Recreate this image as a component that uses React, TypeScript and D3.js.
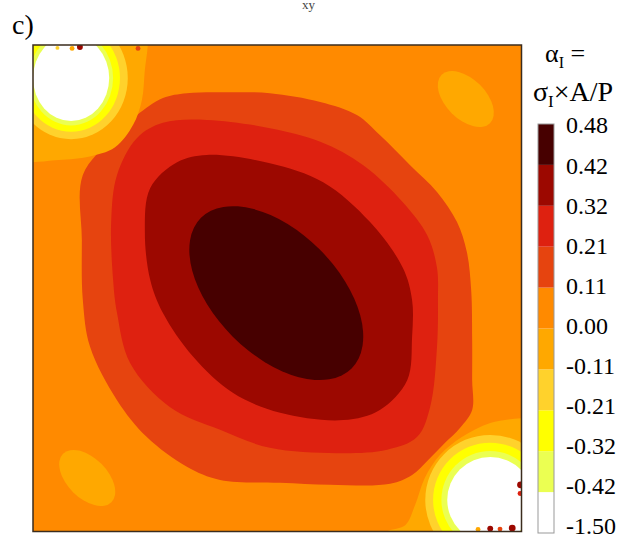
import React from 'react';
import * as d3 from 'd3';

// contour levels of alpha_I and their fill colours (band i = levels[i]..levels[i+1])
const levels = [-1.5, -0.42, -0.32, -0.21, -0.11, 0.0, 0.11, 0.21, 0.32, 0.42, 0.48];
const bandColors = ['#ffffff', '#ebff52', '#ffff00', '#ffd22c', '#ffa800', '#ff8a00', '#e6440f', '#de2110', '#9c0800', '#470000'];

// outlines in section coordinates (% of width, % of height, y up)
const above011 = [[10.2, 73.3], [16.4, 80.9], [21.3, 85.6], [26.6, 89.1], [31.5, 90.1], [40.3, 90.3], [48.5, 90.1], [58.8, 88.3], [66.3, 85.6], [71.0, 81.5], [77.2, 75.3], [82.7, 69.8], [86.8, 63.6], [88.8, 57.5], [89.7, 49.6], [89.9, 39.4], [89.9, 31.1], [89.9, 25.0], [87.4, 21.3], [84.3, 18.2], [80.9, 14.7], [77.6, 11.6], [73.1, 9.8], [60.8, 9.6], [50.6, 10.0], [38.3, 10.6], [31.5, 13.3], [23.3, 19.4], [17.2, 27.0], [11.7, 37.9], [10.2, 47.6], [10.0, 59.9]];
const above021 = [[16.4, 51.7], [16.0, 63.6], [17.2, 73.3], [21.3, 80.9], [26.6, 84.0], [35.6, 84.6], [48.5, 82.9], [58.8, 80.1], [67.6, 75.3], [75.7, 67.7], [80.7, 60.9], [82.7, 54.2], [82.9, 47.6], [82.7, 37.9], [81.3, 25.6], [78.6, 19.4], [72.5, 16.8], [62.2, 16.1], [48.5, 17.2], [38.3, 20.9], [28.0, 25.6], [19.9, 34.6], [17.2, 44.9]];
const above032 = [[22.9, 61.6], [24.0, 70.6], [29.5, 75.9], [35.6, 77.4], [48.5, 75.7], [59.4, 71.8], [69.0, 63.6], [75.7, 54.2], [77.6, 47.6], [77.6, 40.0], [76.6, 31.1], [71.0, 25.0], [63.5, 22.9], [50.6, 24.4], [40.9, 28.5], [32.8, 35.9], [26.6, 44.9], [24.0, 51.7]];
const below000TL = [[0, 75.9], [4.5, 76.3], [11.1, 77.0], [16.8, 79.0], [20.5, 83.6], [22.3, 88.7], [22.9, 94.9], [23.5, 100], [23.5, 104], [-4, 104], [-4, 75.9]];
const below000BR = [[99.9, 23.3], [93.6, 22.3], [87.8, 19.4], [83.3, 15.7], [80.2, 11.0], [78.2, 5.4], [76.2, 1.3], [72.1, -0.3], [72.1, -4], [104, -4], [104, 23.3]];

// elliptic patches: [cx, cy, rx, ry, angle(deg, y up), band]
const patches = [
  [49.8, 49.0, 21.8, 12.6, -45, 9],
  [88.6, 88.9, 7.0, 4.1, -45, 4],
  [11.1, 11.0, 7.0, 4.1, -45, 4],
];

// stress-free corners: centre and [rx, ry] of the -0.11, -0.21, -0.32, -0.42 levels
const cornerCentres = [[7.8, 93.2], [93.6, 6.5]];
const cornerRadii = [
  [[11.6, 12.5], [10.0, 11.0], [8.6, 9.7], [7.8, 8.8]],
  [[13.3, 13.3], [11.7, 11.7], [10.0, 10.0], [8.8, 8.8]],
];

// isolated noisy spots near the corners: [x, y, r, band]
const specks = [
  [9.6, 99.6, 0.6, 8], [8.0, 99.3, 0.5, 4], [21.5, 99.3, 0.5, 6], [5.0, 99.4, 0.4, 3],
  [99.8, 9.6, 0.7, 8], [99.7, 7.8, 0.5, 7], [93.6, 0.6, 0.6, 8],
  [95.6, 0.5, 0.5, 6], [98.1, 0.7, 0.7, 8], [91.1, 0.4, 0.5, 4],
];

const App = () => {
  const x = d3.scaleLinear().domain([0, 100]).range([33, 521.5]);
  const y = d3.scaleLinear().domain([0, 100]).range([531.5, 45]);
  const len = (d: number) => x(d) - x(0);
  const outline = d3.line<number[]>()
    .x(d => x(d[0]))
    .y(d => y(d[1]))
    .curve(d3.curveCatmullRomClosed.alpha(0.5));

  const polys = [
    { band: 6, pts: above011 },
    { band: 7, pts: above021 },
    { band: 8, pts: above032 },
    { band: 4, pts: below000TL },
    { band: 4, pts: below000BR },
  ];

  // colour bar on level index, labels spread a little inside the bar ends
  const cb = d3.scaleLinear().domain([levels.length - 1, 0]).range([124, 533]);
  const cbLab = d3.scaleLinear().domain([levels.length - 1, 0]).range([125, 526]);
  const font = '"Liberation Serif", "Times New Roman", serif';

  return (
    <svg width={620} height={539} style={{ position: 'absolute', left: 0, top: 0, background: '#fff' }}>
      <defs>
        <clipPath id="plotClip">
          <rect x={x(0)} y={y(100)} width={x(100) - x(0)} height={y(0) - y(100)} />
        </clipPath>
      </defs>
      <text x={302} y={9} fontFamily={font} fontSize={13} fill="#444">xy</text>
      <text x={12} y={34} fontFamily={font} fontSize={28}>c)</text>

      <g clipPath="url(#plotClip)">
        <rect x={x(0)} y={y(100)} width={x(100) - x(0)} height={y(0) - y(100)} fill={bandColors[5]} />
        {polys.map((p, i) => (
          <path key={'p' + i} d={outline(p.pts) || ''} fill={bandColors[p.band]} />
        ))}
        {patches.map(([cx, cy, rx, ry, ang, band], i) => (
          <ellipse key={'e' + i} cx={0} cy={0} rx={len(rx)} ry={len(ry)} fill={bandColors[band]}
            transform={`translate(${x(cx)},${y(cy)}) rotate(${-ang})`} />
        ))}
        {cornerCentres.map((c, i) => cornerRadii[i].map((r, j) => (
          <ellipse key={`c${i}-${j}`} cx={x(c[0])} cy={y(c[1])} rx={len(r[0])} ry={len(r[1])} fill={bandColors[3 - j]} />
        )))}
        {specks.map(([sx, sy, r, band], i) => (
          <circle key={'s' + i} cx={x(sx)} cy={y(sy)} r={len(r)} fill={bandColors[band]} />
        ))}
      </g>
      <rect x={x(0)} y={y(100)} width={x(100) - x(0)} height={y(0) - y(100)} fill="none" stroke="#3b2c1e" strokeWidth={1.5} />

      {/* legend title */}
      <text x={545} y={62} fontFamily={font} fontSize={26}>
        α<tspan fontSize={16} dy={6}>I</tspan><tspan dy={-6}> =</tspan>
      </text>
      <text x={533} y={101} fontFamily={font} fontSize={28}>
        σ<tspan fontSize={17} dy={6}>I</tspan><tspan dy={-6}>×A/P</tspan>
      </text>

      {/* colour bar */}
      {bandColors.map((c, i) => (
        <rect key={'b' + i} x={538} y={cb(i + 1)} width={16} height={cb(i) - cb(i + 1)} fill={c} />
      ))}
      <rect x={538} y={cb(levels.length - 1)} width={16} height={cb(0) - cb(levels.length - 1)} fill="none" stroke="#999" strokeWidth={1} />
      {levels.map((l, i) => (
        <text key={'t' + i} x={566} y={cbLab(i)} dy="0.35em" fontFamily={font} fontSize={24}>
          {l.toFixed(2)}
        </text>
      ))}
    </svg>
  );
};

export default App;
